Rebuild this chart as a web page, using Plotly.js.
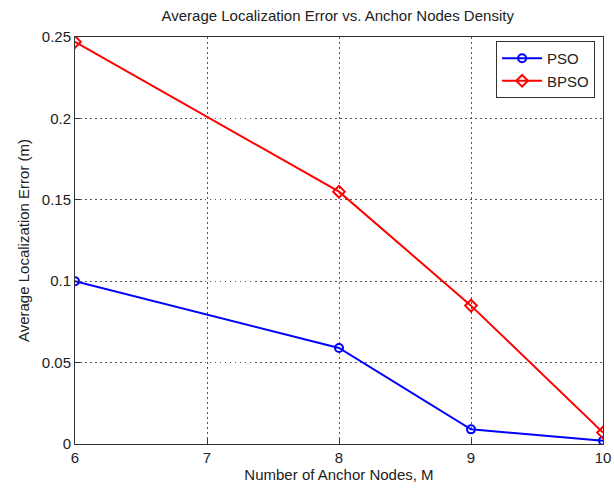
<!DOCTYPE html>
<html>
<head>
<meta charset="utf-8">
<script src="https://cdn.plot.ly/plotly-3.0.1.min.js"></script>
<style>html,body{margin:0;padding:0;background:#fff;}#chart{width:614px;height:491px;}</style>
</head>
<body>
<div id="chart"></div>
<script>
const anchorNodes = [6, 8, 9, 10];
const psoError = [0.100, 0.059, 0.009, 0.002];
const bpsoError = [0.247, 0.155, 0.085, 0.007];
const xTicks = [6, 7, 8, 9, 10];
const yTicks = [0, 0.05, 0.1, 0.15, 0.2, 0.25];
const yTickLabels = ['0', '0.05', '0.1', '0.15', '0.2', '0.25'];

const traces = [
  {x: anchorNodes, y: psoError, name: 'PSO', mode: 'lines+markers',
   line: {color: '#0000ff', width: 2},
   marker: {symbol: 'circle-open', size: 8, color: '#0000ff', line: {width: 2, color: '#0000ff'}}},
  {x: anchorNodes, y: bpsoError, name: 'BPSO', mode: 'lines+markers',
   line: {color: '#ff0000', width: 2},
   marker: {symbol: 'diamond-open', size: 9, color: '#ff0000', line: {width: 2, color: '#ff0000'}}}
];

const axisCommon = {
  showline: true, mirror: true, linecolor: '#333', linewidth: 1,
  ticks: 'inside', ticklen: 5, tickcolor: '#333',
  showgrid: true, gridcolor: '#555', griddash: '1.5px,3.5px', gridwidth: 1,
  zeroline: false,
  tickfont: {family: 'Liberation Sans, Arial, sans-serif', size: 15, color: '#222'}
};

const layout = {
  width: 614, height: 491,
  paper_bgcolor: '#fff', plot_bgcolor: '#fff',
  margin: {l: 75, r: 11, t: 37, b: 47},
  font: {family: 'Liberation Sans, Arial, sans-serif', color: '#222'},
  title: {text: 'Average Localization Error vs. Anchor Nodes Density',
          font: {size: 15, color: '#222'}, x: 0.55, xanchor: 'center', y: 0.967, yanchor: 'middle'},
  xaxis: Object.assign({}, axisCommon, {
    range: [6, 10], tickvals: xTicks,
    title: {text: 'Number of Anchor Nodes, M', font: {size: 15, color: '#222'}, standoff: 4}
  }),
  yaxis: Object.assign({}, axisCommon, {
    range: [0, 0.25], tickvals: yTicks, ticktext: yTickLabels,
    title: {text: 'Average Localization Error (m)', font: {size: 15, color: '#222'}, standoff: 8}
  }),
  legend: {
    x: 0.985, y: 0.99, xanchor: 'right', yanchor: 'top',
    bgcolor: '#fff', bordercolor: '#333', borderwidth: 1,
    font: {size: 15, color: '#222'}, tracegroupgap: 0, itemwidth: 40
  },
  showlegend: true
};

Plotly.newPlot('chart', traces, layout, {displayModeBar: false, staticPlot: true});
</script>
</body>
</html>
